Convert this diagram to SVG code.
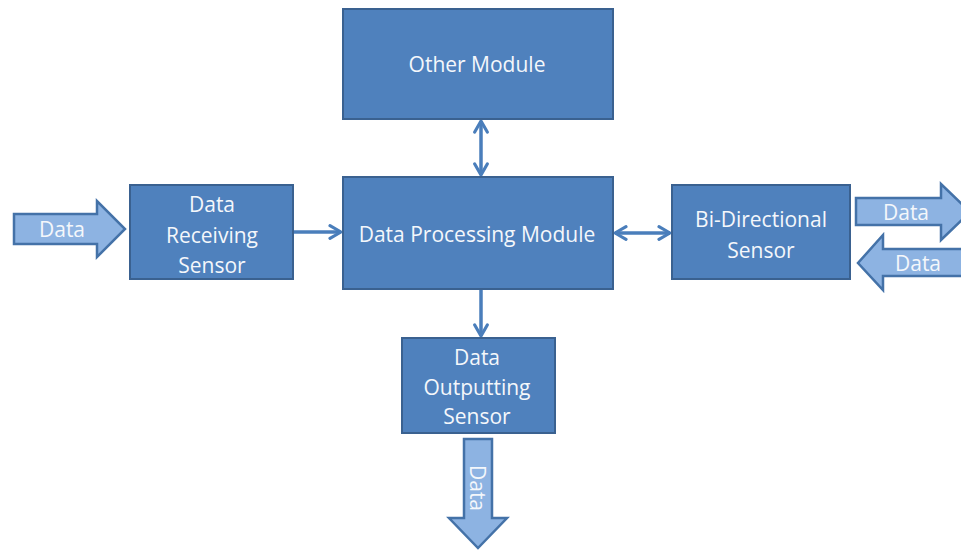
<svg xmlns="http://www.w3.org/2000/svg" width="961" height="550" viewBox="0 0 961 550">
<style>
.box{fill:#4F81BD;stroke:#3A6190;stroke-width:2}
.blk{fill:#8DB3E2;stroke:#4472A8;stroke-width:2.5}
.t{font-family:"Open Sans","Liberation Sans",sans-serif;font-size:21px;fill:#F4F7FB;text-anchor:middle;dominant-baseline:central}
.c{stroke:#4A7EBB;stroke-width:3.5;fill:none}
</style>
<defs>
<marker id="ah" viewBox="0 0 10 10" refX="8" refY="5" markerWidth="4.5" markerHeight="4.5" orient="auto-start-reverse" markerUnits="strokeWidth">
<path d="M1,1 L8,5 L1,9" fill="none" stroke="#4A7EBB" stroke-width="2" stroke-linecap="round" stroke-linejoin="round"/>
</marker>
</defs>
<rect width="961" height="550" fill="#FFFFFF"/>
<g id="connectors">
<line class="c" x1="293" y1="232" x2="341" y2="232" marker-end="url(#ah)"/>
<line class="c" x1="615" y1="233" x2="670" y2="233" marker-start="url(#ah)" marker-end="url(#ah)"/>
<line class="c" x1="481" y1="121" x2="481" y2="175" marker-start="url(#ah)" marker-end="url(#ah)"/>
<line class="c" x1="481" y1="289" x2="481" y2="336" marker-end="url(#ah)"/>
</g>
<g id="other-module">
<rect class="box" x="343" y="9" width="270" height="110"/>
<text class="t" x="477" y="64">Other Module</text>
</g>
<g id="data-processing-module">
<rect class="box" x="343" y="177" width="270" height="112"/>
<text class="t" x="477" y="234">Data Processing Module</text>
</g>
<g id="data-receiving-sensor">
<rect class="box" x="130" y="185" width="163" height="94"/>
<text class="t" x="212" y="204">Data</text>
<text class="t" x="212" y="235">Receiving</text>
<text class="t" x="212" y="265">Sensor</text>
</g>
<g id="bi-directional-sensor">
<rect class="box" x="672" y="185" width="178" height="94"/>
<text class="t" x="761" y="219">Bi-Directional</text>
<text class="t" x="761" y="250">Sensor</text>
</g>
<g id="data-outputting-sensor">
<rect class="box" x="402" y="338" width="153" height="95"/>
<text class="t" x="477" y="357">Data</text>
<text class="t" x="477" y="387">Outputting</text>
<text class="t" x="477" y="416">Sensor</text>
</g>
<g id="data-in-left">
<polygon class="blk" points="14,214 97,214 97,201 125,229 97,257 97,244 14,244"/>
<text class="t" x="62" y="229">Data</text>
</g>
<g id="data-out-right">
<polygon class="blk" points="856,198 941,198 941,184 970,212 941,240 941,225 856,225"/>
<text class="t" x="906" y="212">Data</text>
</g>
<g id="data-in-right">
<polygon class="blk" points="970,249 883,249 883,235 858,263 883,290 883,276 970,276"/>
<text class="t" x="918" y="263">Data</text>
</g>
<g id="data-out-bottom">
<polygon class="blk" points="464,439 492,439 492,518 507,518 478,548 449,518 464,518"/>
<text class="t" x="478" y="488" transform="rotate(90 478 488)">Data</text>
</g>
</svg>
